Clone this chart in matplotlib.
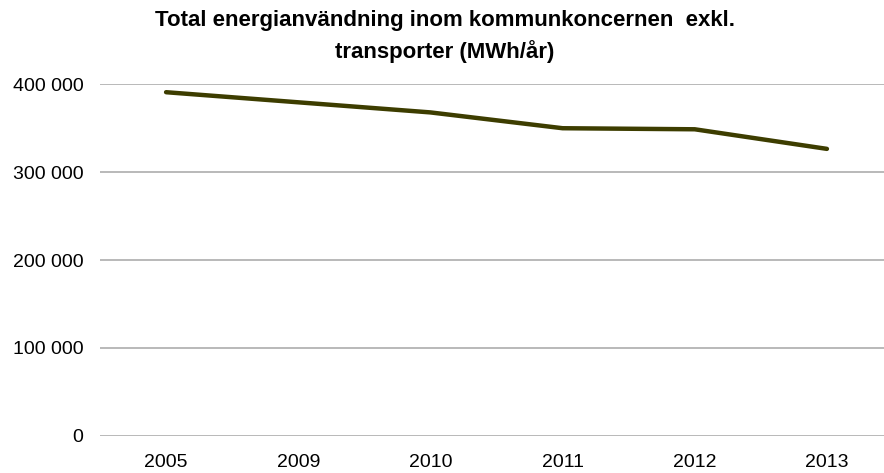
import matplotlib
matplotlib.use("Agg")
import matplotlib.pyplot as plt
from matplotlib.ticker import FuncFormatter

plt.rcParams['font.family'] = ['Liberation Sans', 'DejaVu Sans']

# data
years = ['2005', '2009', '2010', '2011', '2012', '2013']
energy_mwh = [391000, 379500, 368000, 350000, 348800, 326500]
y_ticks = [0, 100000, 200000, 300000, 400000]

fig = plt.figure(figsize=(8.84, 4.73), dpi=100)
# plot area runs slightly past the right edge, as in the original
ax = fig.add_axes([100 / 884, 37.3 / 473, 793 / 884, 351.4 / 473])

ax.plot(range(len(years)), energy_mwh, color='#3d3d00', linewidth=3.2,
        solid_capstyle='round', solid_joinstyle='round', zorder=3)

ax.set_xlim(-0.5, len(years) - 0.5)
ax.set_ylim(0, 400000)
ax.set_xticks(range(len(years)))
ax.set_xticklabels(years)
ax.set_yticks(y_ticks)
ax.yaxis.set_major_formatter(FuncFormatter(lambda v, p: f"{int(v):,}".replace(",", " ")))

ax.grid(axis='y', color='#a6a6a6', linewidth=1.1)
ax.set_axisbelow(True)
for s in ax.spines.values():
    s.set_visible(False)
ax.tick_params(axis='both', length=0, labelsize=14, colors='black')
ax.tick_params(axis='y', pad=12)
ax.tick_params(axis='x', pad=13)

fig.text(0.503, 0.978, "Total energianvändning inom kommunkoncernen  exkl.\ntransporter (MWh/år)",
         ha='center', va='top', fontsize=16, fontweight='bold', linespacing=1.5)

fig.savefig('out.png', dpi=100)
